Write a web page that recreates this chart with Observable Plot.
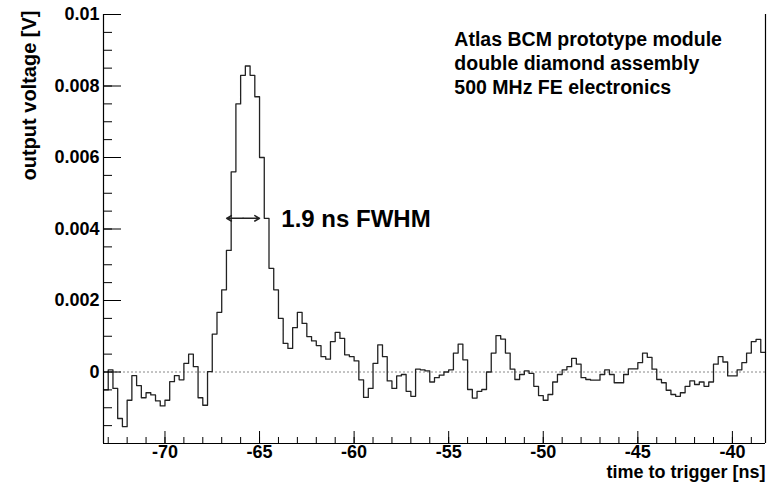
<!DOCTYPE html>
<html>
<head>
<meta charset="utf-8">
<script src="https://cdn.jsdelivr.net/npm/d3@7"></script>
<script src="https://cdn.jsdelivr.net/npm/@observablehq/plot@0.6"></script>
<style>
  body { margin: 0; background: #fff; }
  #chart { font-family: "Liberation Sans", Arial, sans-serif; }
</style>
</head>
<body>
<div id="chart"></div>
<script>
// histogram: 140 bins of 0.25 ns starting at -73.25 ns, values in mV
const binStart = -73.25;
const binWidth = 0.25;
const voltsMV = [
  -0.50, 0.06, -0.46, -1.30, -1.53, -0.79, -0.10, -0.38, -0.72, -0.58,
  -0.64, -0.81, -0.95, -0.79, -0.27, -0.10, -0.22, 0.24, 0.50, 0.15,
  -0.72, -0.93, 0.01, 1.06, 1.67,
  2.3, 3.4, 5.6, 7.5, 8.3, 8.56, 8.3, 7.7, 6.0, 4.3,
  2.9, 2.3, 1.5, 0.8, 0.66, 1.24, 1.67, 1.36, 0.99, 0.87,
  0.74, 0.43, 0.36, 0.85, 1.11, 0.94, 0.48, 0.43, 0.31, -0.22,
  -0.71, -0.46, 0.24, 0.76, 0.43, -0.25, -0.46,
  -0.11, -0.07, -0.54, -0.68, 0.08, 0.06, 0.03, -0.28, -0.16, -0.09,
  0, 0.06, 0.53, 0.78, 0.34, -0.49, -0.73, -0.54, -0.49, 0,
  0.53, 1.02, 0.92, 0.53, 0.08, -0.21, -0.07, 0.03, -0.04, -0.40,
  -0.66, -0.79, -0.63, -0.28, -0.07, 0.06, 0.15, 0.38, 0.22, -0.16,
  -0.21, -0.23, -0.23, -0.07, 0.06, -0.07, -0.30, -0.30, -0.07, 0.09,
  0.09, 0.26, 0.53, 0.41, 0.08, -0.21, -0.30, -0.51, -0.63, -0.68,
  -0.58, -0.40, -0.25, -0.35, -0.28, -0.40, -0.28, 0.22, 0.43, 0.28,
  -0.11, -0.11, 0.06, 0.26, 0.53, 0.85, 0.91, 0.55
];
const xDomain = [-73.25, -38.25];
const yDomain = [-0.002, 0.01];
const xMajor = [-70, -65, -60, -55, -50, -45, -40];
const xMinor = d3.range(-73, -38, 1);
const yMajor = [0, 0.002, 0.004, 0.006, 0.008, 0.01];
const yMinor = d3.range(-0.002, 0.01001, 0.0005);
const infoLines = ["Atlas BCM prototype module", "double diamond assembly", "500 MHz FE electronics"];
const fwhm = {left: -66.74, right: -65.0, level: 0.0043, label: "1.9 ns FWHM"};

const steps = voltsMV.map((v, i) => ({t: binStart + i * binWidth, v: v / 1000}));
steps.push({t: binStart + voltsMV.length * binWidth, v: voltsMV[voltsMV.length - 1] / 1000});
const mid = (fwhm.left + fwhm.right) / 2;

const fmt = d => d === 0 ? "0" : String(+d.toFixed(3));

const chart = Plot.plot({
  width: 768,
  height: 490,
  marginLeft: 103,
  marginRight: 3,
  marginTop: 14,
  marginBottom: 47,
  style: {fontFamily: "Liberation Sans, Arial, sans-serif", fontWeight: "bold", fontSize: "15px"},
  x: {domain: xDomain, label: null},
  y: {domain: yDomain, label: null},
  marks: [
    Plot.ruleY([0], {stroke: "#888", strokeDasharray: "2,2"}),
    Plot.line(steps, {x: "t", y: "v", curve: "step-after", stroke: "#222", strokeWidth: 1.3}),
    Plot.arrow([{a: mid, b: fwhm.left}, {a: mid, b: fwhm.right}], {
      x1: "a", x2: "b", y1: () => fwhm.level, y2: () => fwhm.level,
      stroke: "#222", strokeWidth: 1.5, headLength: 10
    }),
    Plot.text([fwhm.label], {x: -63.85, y: fwhm.level, text: d => d, textAnchor: "start", fontSize: 24, fontWeight: "bold", dy: 1}),
    Plot.text(infoLines, {x: -54.7, y: (d, i) => 0.0093 - i * 0.00067, text: d => d, textAnchor: "start", fontSize: 19.5, fontWeight: "bold"}),
    Plot.ruleX([xDomain[0], xDomain[1]], {stroke: "#000", strokeWidth: 1.2}),
    Plot.ruleY([yDomain[0]], {stroke: "#000", strokeWidth: 1.2}),
    Plot.axisX({ticks: xMinor, tickSize: -6, tickFormat: () => "", anchor: "bottom", label: null}),
    Plot.axisX({ticks: xMajor, tickSize: -12, tickPadding: 14, tickFormat: d => String(d), anchor: "bottom", label: null, fontSize: 18, fontWeight: "bold"}),
    Plot.axisY({ticks: yMinor, tickSize: -9, tickFormat: () => "", anchor: "left", label: null}),
    Plot.axisY({ticks: yMajor, tickSize: -18, tickPadding: 22, tickFormat: fmt, anchor: "left", label: null, fontSize: 18, fontWeight: "bold"}),
    Plot.text(["time to trigger [ns]"], {frameAnchor: "bottom-right", dy: 34, text: d => d, textAnchor: "end", fontSize: 18, fontWeight: "bold"}),
    Plot.text(["output voltage [V]"], {frameAnchor: "top-left", dx: -82, dy: -4, rotate: -90, text: d => d, textAnchor: "end", fontSize: 20, fontWeight: "bold"})
  ]
});

d3.select("#chart").append(() => chart);
</script>
</body>
</html>
